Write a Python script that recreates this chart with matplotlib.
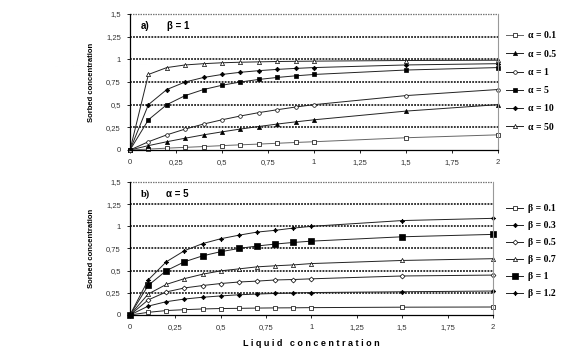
import numpy as np
import matplotlib as mpl
mpl.use('Agg')
import matplotlib.pyplot as plt
from matplotlib.ticker import FuncFormatter

# liquid concentration (x) shared by all curves
x_liq = [0, 0.1, 0.2, 0.3, 0.4, 0.5, 0.6, 0.7, 0.8, 0.9, 1.0, 1.5, 2.0]

# panel a) beta = 1, varying alpha
alpha_labels = ['α = 0.1', 'α = 0.5', 'α = 1', 'α = 5', 'α = 10', 'α = 50']
a_01 = [0, 0.010, 0.020, 0.029, 0.038, 0.048, 0.057, 0.065, 0.074, 0.083, 0.091, 0.135, 0.167]
a_05 = [0, 0.048, 0.091, 0.130, 0.167, 0.200, 0.231, 0.259, 0.286, 0.310, 0.333, 0.429, 0.500]
a_1 = [0, 0.091, 0.167, 0.231, 0.286, 0.333, 0.375, 0.412, 0.444, 0.474, 0.500, 0.600, 0.667]
a_5 = [0, 0.333, 0.500, 0.600, 0.667, 0.714, 0.750, 0.778, 0.800, 0.818, 0.833, 0.882, 0.909]
a_10 = [0, 0.500, 0.667, 0.750, 0.800, 0.833, 0.857, 0.875, 0.889, 0.900, 0.909, 0.938, 0.952]
a_50 = [0, 0.833, 0.909, 0.938, 0.952, 0.962, 0.968, 0.972, 0.976, 0.978, 0.980, 0.987, 0.990]

# panel b) alpha = 5, varying beta
beta_labels = ['β = 0.1', 'β = 0.3', 'β = 0.5', 'β = 0.7', 'β = 1', 'β = 1.2']
b_01 = [0, 0.030, 0.050, 0.060, 0.068, 0.073, 0.075, 0.078, 0.080, 0.081, 0.083, 0.088, 0.090]
b_03 = [0, 0.100, 0.150, 0.180, 0.200, 0.215, 0.228, 0.236, 0.243, 0.248, 0.253, 0.262, 0.270]
b_05 = [0, 0.170, 0.260, 0.305, 0.332, 0.355, 0.372, 0.382, 0.395, 0.400, 0.408, 0.440, 0.450]
b_07 = [0, 0.236, 0.345, 0.410, 0.460, 0.498, 0.520, 0.543, 0.555, 0.565, 0.580, 0.615, 0.635]
b_1 = [0, 0.333, 0.500, 0.600, 0.667, 0.714, 0.750, 0.778, 0.800, 0.818, 0.833, 0.882, 0.909]
b_12 = [0, 0.395, 0.600, 0.725, 0.805, 0.860, 0.900, 0.935, 0.955, 0.980, 1.000, 1.065, 1.090]

ticks_x = [0, 0.25, 0.5, 0.75, 1, 1.25, 1.5, 1.75, 2]
ticks_y = [0, 0.25, 0.5, 0.75, 1, 1.25, 1.5]


def comma_fmt(v, pos):
    s = ('%.2f' % v).rstrip('0').rstrip('.')
    return s.replace('.', ',')


def style_axes(ax):
    ax.set_xlim(0, 2)
    ax.set_ylim(0, 1.5)
    ax.set_xticks(ticks_x)
    ax.set_yticks(ticks_y)
    ax.xaxis.set_major_formatter(FuncFormatter(comma_fmt))
    ax.yaxis.set_major_formatter(FuncFormatter(comma_fmt))
    ax.tick_params(labelsize=5.5, labelcolor='#333333', length=2.5, width=0.6,
                   direction='out', pad=4)
    for y in ticks_y[1:-1]:
        ax.axhline(y, color='black', lw=1.1, ls=(0, (1.2, 0.8)), zorder=0)
    ax.axhline(1.5, color='#777777', lw=0.9, ls=(0, (1.2, 0.8)), zorder=0, clip_on=False)
    ax.spines['top'].set_visible(False)
    ax.spines['right'].set_color('#999999')
    ax.spines['right'].set_linewidth(0.8)
    ax.spines['left'].set_linewidth(0.9)
    ax.spines['bottom'].set_linewidth(0.9)


plt.rcParams['font.family'] = ['Liberation Sans', 'DejaVu Sans']
fig = plt.figure(figsize=(5.66, 3.56), dpi=100)
ax1 = fig.add_axes([0.2297, 0.5787, 0.6502, 0.382])
ax2 = fig.add_axes([0.2297, 0.1152, 0.6413, 0.3736])

lc = '#222222'
series_a = [a_01, a_05, a_1, a_5, a_10, a_50]
markers_a = [('s', 'white', 2.6), ('^', 'black', 3.0), ('o', 'white', 2.6),
             ('s', 'black', 2.8), ('D', 'black', 2.3), ('^', 'white', 3.0)]
colors_a = ['#666666', lc, lc, lc, lc, lc]
for i in range(len(series_a)):
    m, fc, ms = markers_a[i]
    ax1.plot(x_liq, series_a[i], color=colors_a[i], lw=0.7, marker=m, ms=ms,
             mfc=fc, mec='black', mew=0.5, label=alpha_labels[i], clip_on=False)

series_b = [b_01, b_03, b_05, b_07, b_1, b_12]
markers_b = [('s', 'white', 2.5), ('D', 'black', 2.2), ('D', 'white', 2.5),
             ('^', 'white', 3.0), ('s', 'black', 4.2), ((4, 1, 0), 'black', 3.4)]
for i in range(len(series_b)):
    m, fc, ms = markers_b[i]
    ax2.plot(x_liq, series_b[i], color=lc, lw=0.7, marker=m, ms=ms,
             mfc=fc, mec='black', mew=0.5, label=beta_labels[i], clip_on=False)

style_axes(ax1)
style_axes(ax2)

ax1.text(0.03, 0.91, 'a)', transform=ax1.transAxes, fontsize=7, fontweight='bold', va='center')
ax1.text(0.10, 0.91, 'β = 1', transform=ax1.transAxes, fontsize=7, fontweight='bold', va='center')
ax2.text(0.03, 0.91, 'b)', transform=ax2.transAxes, fontsize=7.5, fontweight='bold',
         va='center', family='Liberation Serif')
ax2.text(0.10, 0.91, 'α = 5', transform=ax2.transAxes, fontsize=7, fontweight='bold', va='center')

ax1.set_ylabel('Sorbed concentration', fontsize=5.5, fontweight='bold', labelpad=8)
ax2.set_ylabel('Sorbed concentration', fontsize=5.5, fontweight='bold', labelpad=8)
ax2.set_xlabel('L i q u i d   c o n c e n t r a t i o n', fontsize=6.5, fontweight='bold',
               labelpad=6)

leg_font = {'family': 'Liberation Serif', 'weight': 'bold', 'size': 7}
fig.legend(*ax1.get_legend_handles_labels(), loc='center left', bbox_to_anchor=(0.885, 0.771),
           frameon=False, prop=leg_font, labelspacing=0.95, handlelength=1.8, handletextpad=0.5,
           borderpad=0)
fig.legend(*ax2.get_legend_handles_labels(), loc='center left', bbox_to_anchor=(0.885, 0.295),
           frameon=False, prop=leg_font, labelspacing=0.82, handlelength=1.8, handletextpad=0.5,
           borderpad=0)

plt.savefig('out.png', dpi=100)
plt.close()
